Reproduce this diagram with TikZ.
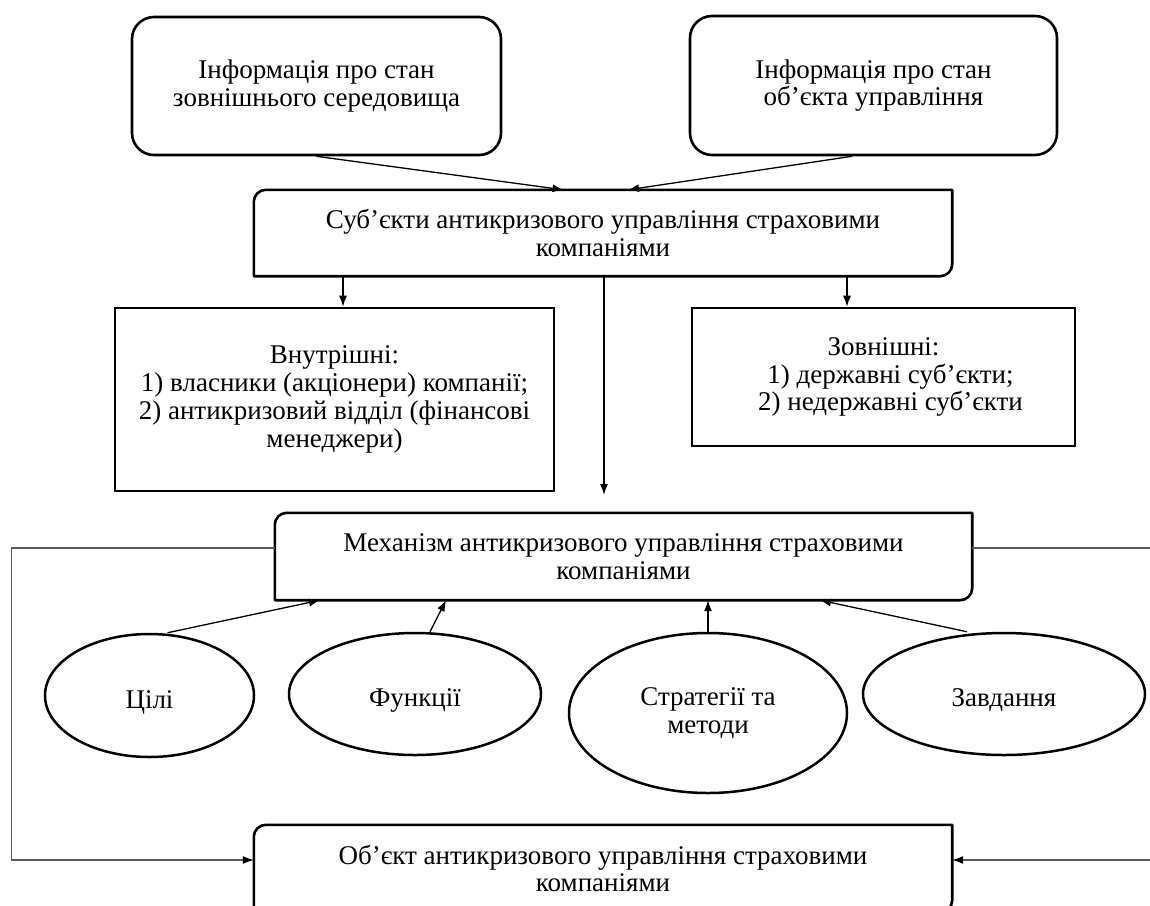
\documentclass[tikz,border=0pt]{standalone}
\usepackage{fontspec}
\setmainfont{Liberation Serif}
\usetikzlibrary{arrows.meta,shapes.geometric}
\newcommand\tlbrborder[2]{%
  \draw[bline] (#1.west) [rounded corners=#2] -- (#1.north west) -- (#1.north)
    [sharp corners] -- (#1.north east) -- (#1.east)
    [rounded corners=#2] -- (#1.south east) -- (#1.south)
    [sharp corners] -- (#1.south west) -- cycle;}
\begin{document}
\begin{tikzpicture}[x=1pt,y=-1pt,
  txt/.style={font=\fontsize{27}{27.8}\selectfont, execute at begin node={\rule{0pt}{31pt}}},
  box/.style={txt, rectangle, inner sep=0pt, align=center},
  rbox/.style={box, draw, line width=2.6pt, rounded corners=22pt},
  sbox/.style={box, draw, line width=2.6pt},
  bline/.style={line width=2.6pt, line join=round},
  ell/.style={txt, ellipse, draw, line width=2.5pt, inner sep=0pt, align=center},
  conn/.style={line width=1.3pt, -{Latex[length=11pt,width=8pt]}},
  fb/.style={line width=1.2pt, draw=black!65, -{Latex[length=11pt,width=8pt,color=black]}}]
\useasboundingbox (0,0) rectangle (1150,905);

% top information boxes
\node[rbox, minimum width=369pt, minimum height=138pt] (tl) at (316.5,86)
  {Інформація про стан\\зовнішнього середовища};
\node[rbox, minimum width=367pt, minimum height=139pt] (tr) at (873.5,85.5)
  {Інформація про стан\\об’єкта управління};

% subjects
\node[box, minimum width=698pt, minimum height=86pt] (subj) at (603,233)
  {Суб’єкти антикризового управління страховими\\компаніями};
\tlbrborder{subj}{12pt}

\node[sbox, minimum width=439pt, minimum height=183pt] (int) at (334.5,399.5)
  {Внутрішні:\\1) власники (акціонери) компанії;\\2) антикризовий відділ (фінансові\\менеджери)};
\node[sbox, minimum width=383pt, minimum height=138pt] (ext) at (883.5,377)
  {Зовнішні:\\\hspace*{14pt}1) державні суб’єкти;\\\hspace*{14pt}2) недержавні суб’єкти};

% mechanism
\node[box, minimum width=697pt, minimum height=87pt] (mech) at (623.5,556.5)
  {Механізм антикризового управління страховими\\компаніями};
\tlbrborder{mech}{12pt}

% ellipses
\node[ell, minimum width=209pt, minimum height=123pt] (c1) at (149.5,695.5) {Цілі};
\node[ell, minimum width=252pt, minimum height=122pt] (c2) at (415,694) {Функції};
\node[ell, minimum width=278pt, minimum height=160pt] (c3) at (708,713) {Стратегії та\\методи};
\node[ell, minimum width=282pt, minimum height=122pt] (c4) at (1004,694) {Завдання};

% object
\node[box, minimum width=698pt, minimum height=87pt] (obj) at (603,868.5)
  {Об’єкт антикризового управління страховими\\компаніями};
\tlbrborder{obj}{12pt}

% connectors
\draw[conn] (tl.south) -- ([xshift=-39.5pt]subj.north);
\draw[conn] ([xshift=-21.5pt]tr.south) -- ([xshift=25pt]subj.north);
\draw[conn] ([xshift=-260pt]subj.south) -- ([xshift=-260pt]subj.south |- int.north);
\draw[conn] ([xshift=244pt]subj.south) -- ([xshift=244pt]subj.south |- ext.north);
\coordinate (midend) at (604,495);
\draw[conn] (subj.south -| midend) -- (midend);

\draw[conn] ([xshift=18pt]c1.north) -- ([xshift=-303.5pt]mech.south);
\draw[conn] ([xshift=15pt]c2.north) -- ([xshift=-177.5pt]mech.south);
\draw[conn] (c3.north) -- (c3.north |- mech.south);
\draw[conn] ([xshift=-37pt]c4.north) -- ([xshift=196.5pt]mech.south);

% feedback lines
\coordinate (fbL) at (11.5,548);
\coordinate (fbL2) at (11.5,860);
\coordinate (fbR) at (1160,548);
\coordinate (fbR2) at (1160,860);
\draw[fb] (mech.west |- fbL) -- (fbL) -- (fbL2) -- (obj.west |- fbL2);
\draw[fb] (mech.east |- fbR) -- (fbR) -- (fbR2) -- (obj.east |- fbR2);
\end{tikzpicture}
\end{document}
